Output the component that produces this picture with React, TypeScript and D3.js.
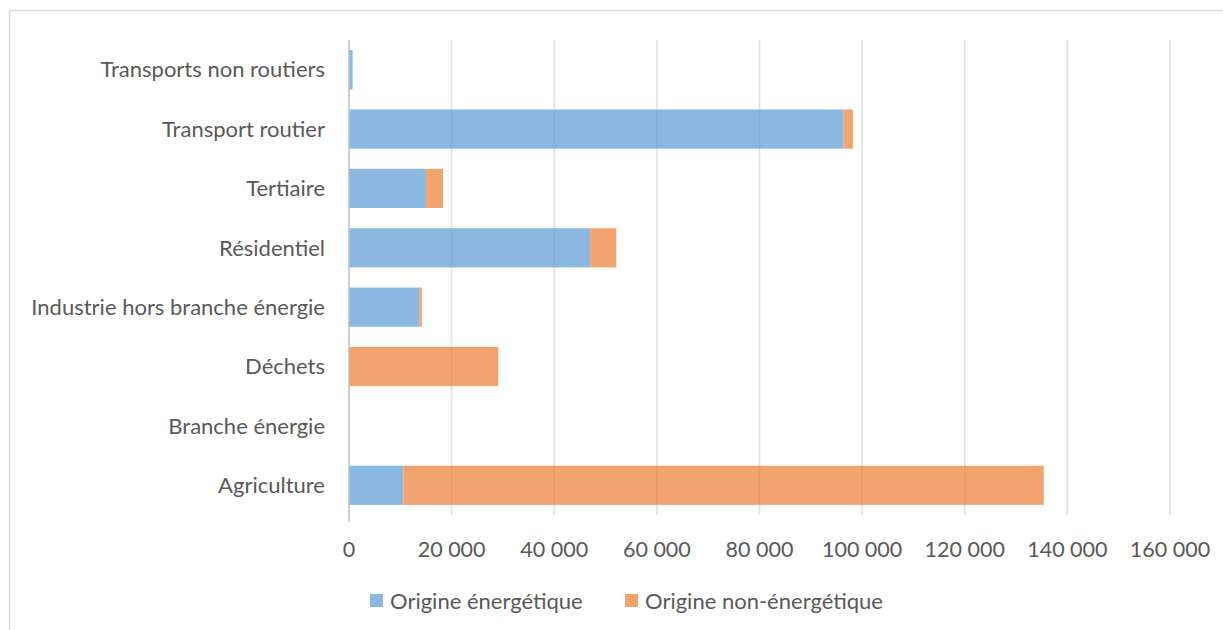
import { useEffect, useRef } from "react"
import * as d3 from "d3"

const categories = [
  "Transports non routiers",
  "Transport routier",
  "Tertiaire",
  "Résidentiel",
  "Industrie hors branche énergie",
  "Déchets",
  "Branche énergie",
  "Agriculture",
]
const energetique = [700, 96400, 15000, 47000, 13700, 0, 0, 10600]
const nonEnergetique = [0, 1800, 3300, 5100, 500, 29100, 0, 124800]
const seriesNames = ["Origine énergétique", "Origine non-énergétique"]
const xTicks = [0, 20000, 40000, 60000, 80000, 100000, 120000, 140000, 160000]

const W = 1223
const H = 630
const FONT = "Lato, 'Open Sans', sans-serif"
const FS = 22

export default function App() {
  const svgRef = useRef<SVGSVGElement>(null)

  useEffect(() => {
    if (!svgRef.current) return
    const svg = d3.select(svgRef.current)
    svg.selectAll("*").remove()

    // cadre du graphique
    svg.append("rect")
      .attr("x", 9.5).attr("y", 10.5)
      .attr("width", W).attr("height", H)
      .attr("fill", "#fff").attr("stroke", "#d9d9d9").attr("stroke-width", 1.5)

    const left = 349, right = 1170, top = 40, bottom = 515

    const x = d3.scaleLinear().domain([0, 160000]).range([left, right])
    const y = d3.scaleBand().domain(categories).range([top, bottom]).paddingInner(0.34).paddingOuter(0.17)

    // grille
    svg.append("g").selectAll("line")
      .data(xTicks.slice(1))
      .join("line")
      .attr("x1", (d) => x(d)).attr("x2", (d) => x(d))
      .attr("y1", top).attr("y2", bottom)
      .attr("stroke", "#e0e0e0").attr("stroke-width", 1.5)

    const rows = categories.map((c, i) => ({ c, e: energetique[i], n: nonEnergetique[i] }))
    const colors = ["#5b9bd5", "#ed7d31"]

    const bars = svg.append("g").attr("opacity", 0.7)
    bars.selectAll(".e")
      .data(rows)
      .join("rect")
      .attr("x", x(0))
      .attr("y", (d) => y(d.c)!)
      .attr("width", (d) => x(d.e) - x(0))
      .attr("height", y.bandwidth())
      .attr("fill", colors[0])
    bars.selectAll(".n")
      .data(rows)
      .join("rect")
      .attr("x", (d) => x(d.e))
      .attr("y", (d) => y(d.c)!)
      .attr("width", (d) => x(d.e + d.n) - x(d.e))
      .attr("height", y.bandwidth())
      .attr("fill", colors[1])

    // axe vertical
    svg.append("line")
      .attr("x1", left).attr("x2", left)
      .attr("y1", top).attr("y2", bottom + 7)
      .attr("stroke", "#bfbfbf").attr("stroke-width", 1.5)

    // libellés catégories
    svg.append("g").selectAll("text")
      .data(categories)
      .join("text")
      .attr("x", 325)
      .attr("y", (d) => y(d)! + y.bandwidth() / 2)
      .attr("dy", "0.35em")
      .attr("text-anchor", "end")
      .attr("font-family", FONT).attr("font-size", FS)
      .attr("fill", "#595959")
      .text((d) => d)

    // graduations
    const fmt = (v: number) => d3.format(",")(v).replace(/,/g, " ")
    svg.append("g").selectAll("text")
      .data(xTicks)
      .join("text")
      .attr("x", (d) => x(d))
      .attr("y", 549)
      .attr("dy", "0.35em")
      .attr("text-anchor", "middle")
      .attr("font-family", FONT).attr("font-size", 21.5)
      .attr("fill", "#595959")
      .text((d) => fmt(d))

    // légende
    const legendX = [370, 625]
    const lg = svg.append("g")
    seriesNames.forEach((s, i) => {
      lg.append("rect")
        .attr("x", legendX[i]).attr("y", 594)
        .attr("width", 13).attr("height", 13)
        .attr("fill", colors[i]).attr("opacity", 0.7)
      lg.append("text")
        .attr("x", legendX[i] + 20).attr("y", 601)
        .attr("dy", "0.35em")
        .attr("font-family", FONT).attr("font-size", FS)
        .attr("fill", "#595959")
        .text(s)
    })
  }, [])

  return (
    <svg
      ref={svgRef}
      width={W}
      height={H}
      style={{ position: "absolute", left: 0, top: 0, background: "#fff" }}
    />
  )
}
